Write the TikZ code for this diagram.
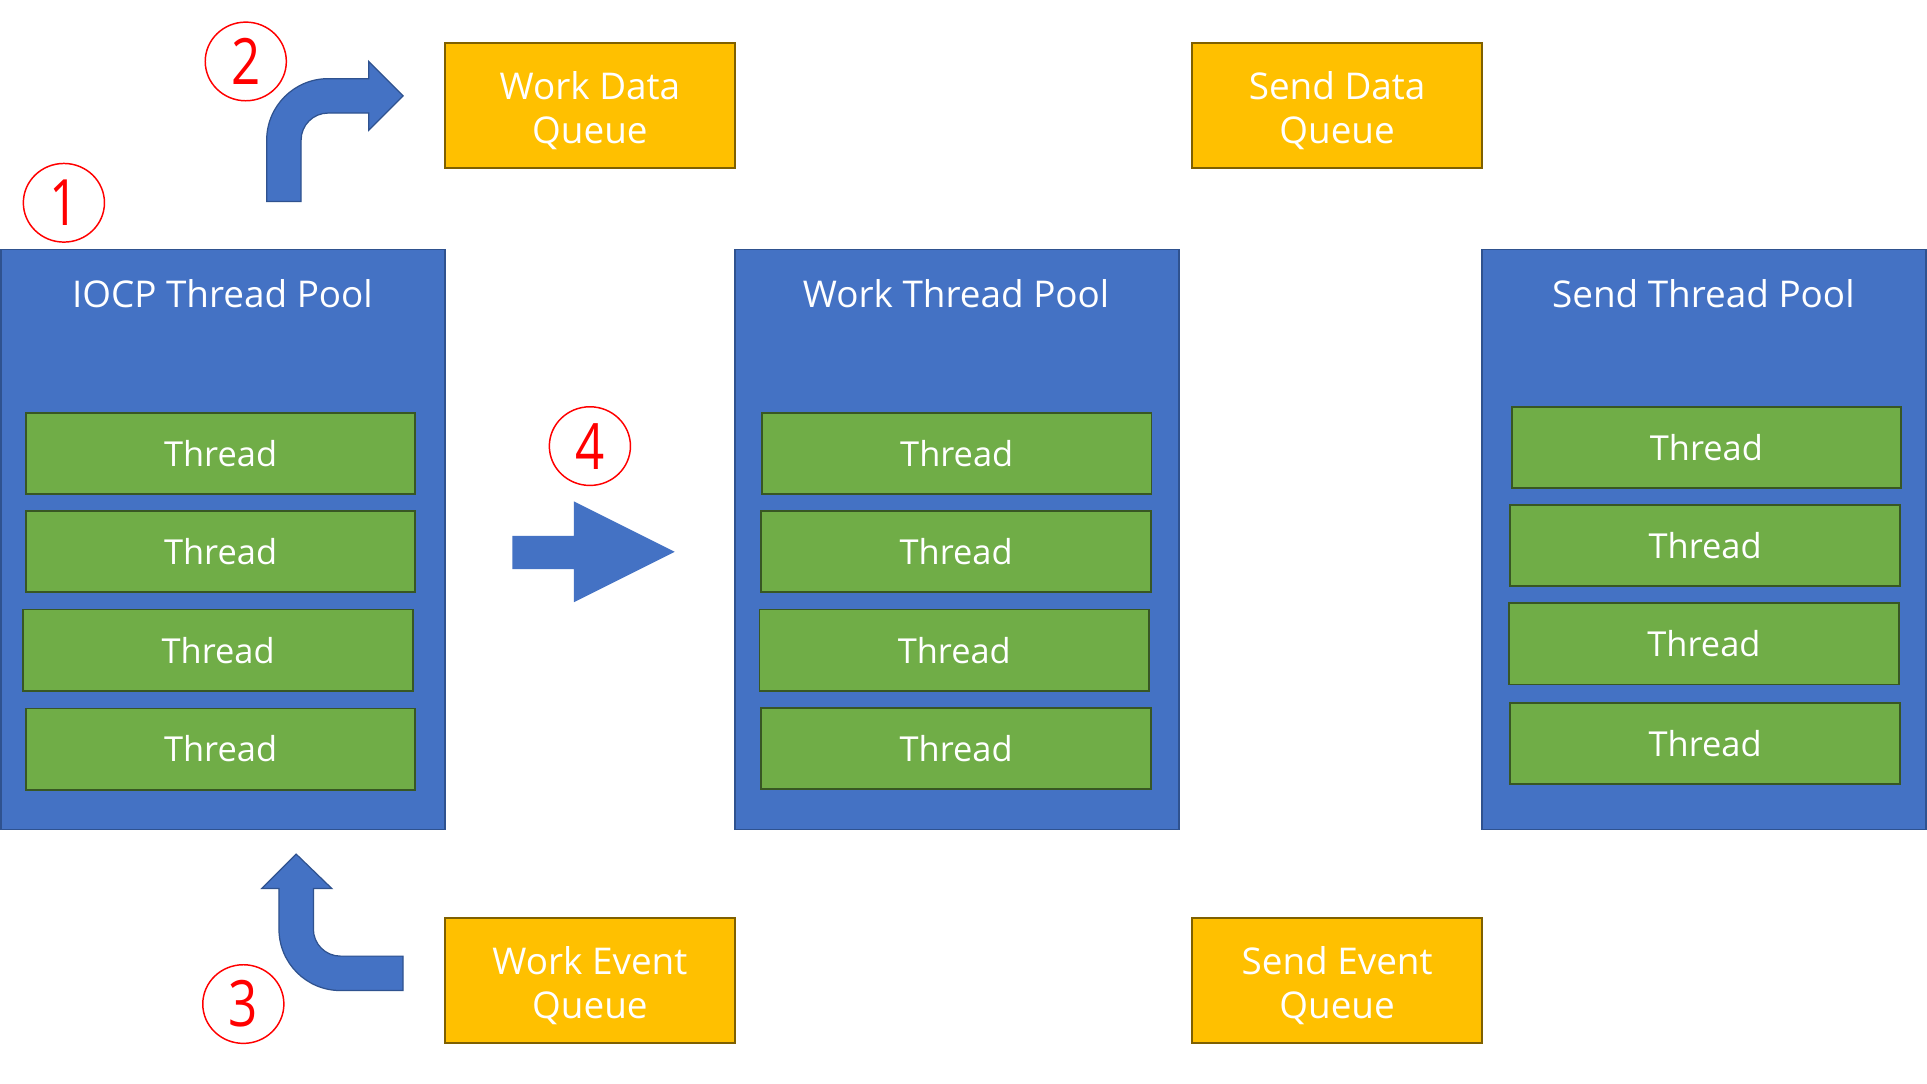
\documentclass[tikz,border=0pt]{standalone}
\usepackage{fontspec}
\setmainfont{Open Sans}
\usetikzlibrary{shapes.geometric}

\definecolor{poolblue}{HTML}{4472C4}
\definecolor{poolline}{HTML}{2F528F}
\definecolor{threadgreen}{HTML}{70AD47}
\definecolor{threadline}{HTML}{385723}
\definecolor{queuegold}{HTML}{FFC000}
\definecolor{queueline}{HTML}{7F6000}
\definecolor{markred}{HTML}{FF0000}

\tikzset{
  pool/.style={draw=poolline, fill=poolblue, line width=1.5pt,
    minimum width=361pt, minimum height=472pt, inner sep=0pt},
  pooltitle/.style={text=white, inner sep=0pt, font=\fontsize{30}{36}\selectfont},
  thread/.style={draw=threadline, fill=threadgreen, line width=1.5pt,
    minimum width=317pt, minimum height=66pt, inner sep=0pt,
    text=white, font=\fontsize{28}{34}\selectfont},
  queue/.style={draw=queueline, fill=queuegold, line width=1.5pt,
    minimum width=236pt, minimum height=102pt, inner sep=0pt,
    text=white, font=\fontsize{30}{36}\selectfont},
  queuetext/.style={text=white, inner sep=0pt, align=center,
    font=\fontsize{30}{36}\selectfont},
  numring/.style={draw=markred, line width=1.2pt, ellipse,
    minimum width=66pt, minimum height=64pt, inner sep=0pt,
    text=markred, font=\fontsize{52}{52}\selectfont},
  bentarrow/.style={draw=poolline, fill=poolblue, line width=1pt, line join=miter},
  flatarrow/.style={fill=poolblue},
}

\newcommand{\ringdigit}[1]{\scalebox{0.8}[1]{#1}}

\begin{document}
\begin{tikzpicture}[x=1pt,y=-1pt]
  \useasboundingbox[fill=white] (0,0) rectangle (1568,882);

  % thread pools
  \node[pool] (iocp) at (181.5,439) {};
  \node[pool] (work) at (778.5,439) {};
  \node[pool] (send) at (1386.5,439) {};

  \node[pooltitle] (iocpT) at (181,239) {IOCP Thread Pool};
  \node[pooltitle] (workT) at (778,239) {Work Thread Pool};
  \node[pooltitle] (sendT) at (1386,239) {Send Thread Pool};

  % IOCP threads
  \node[thread] (i1) at (179.5,369)   {Thread};
  \node[thread] (i2) at (179.5,449)   {Thread};
  \node[thread] (i3) at (177.5,529)   {Thread};
  \node[thread] (i4) at (179.5,609.5) {Thread};

  % work threads
  \node[thread] (w1) at (778.5,369) {Thread};
  \node[thread] (w2) at (778,449)   {Thread};
  \node[thread] (w3) at (776.5,529) {Thread};
  \node[thread] (w4) at (778,609)   {Thread};

  % send threads
  \node[thread] (s1) at (1388.5,364) {Thread};
  \node[thread] (s2) at (1387.5,444) {Thread};
  \node[thread] (s3) at (1386.5,524) {Thread};
  \node[thread] (s4) at (1387.5,605) {Thread};

  % queues
  \node[queue] (wdq) at (480,86)   {};
  \node[queue] (sdq) at (1088,86)  {};
  \node[queue] (weq) at (480,798)  {};
  \node[queue] (seq) at (1088,798) {};
  \node[queuetext] at ([yshift=-4pt]wdq.center) {Work Data\\Queue};
  \node[queuetext] at ([yshift=-4pt]sdq.center) {Send Data\\Queue};
  \node[queuetext] at ([yshift=-4pt]weq.center) {Work Event\\Queue};
  \node[queuetext] at ([yshift=-4pt]seq.center) {Send Event\\Queue};

  % step markers
  \node[numring] (n1) at (52,165)  {\ringdigit{1}};
  \node[numring] (n2) at (200,50)  {\ringdigit{2}};
  \node[numring] (n3) at (198,817) {\ringdigit{3}};
  \node[numring] (n4) at (480,363) {\ringdigit{4}};

  % bent arrow: up, then right towards the work data queue
  \draw[bentarrow] (217,164) -- (217,114)
    arc[start angle=180, end angle=90, radius=50pt]
    -- (300,64) -- (300,50) -- (328,78) -- (300,106) -- (300,92) -- (267,92)
    arc[start angle=90, end angle=180, radius=22pt]
    -- (245,164) -- cycle;

  % bent arrow: left from the work event queue, then up into the IOCP pool
  \draw[bentarrow] (328,778) -- (277,778)
    arc[start angle=270, end angle=180, radius=22pt]
    -- (255,723) -- (270,723) -- (241,695) -- (213,723) -- (227,723) -- (227,756)
    arc[start angle=180, end angle=270, radius=50pt]
    -- (328,806) -- cycle;

  % straight arrow between IOCP and work pools
  \fill[flatarrow] (417,436) -- (467,436) -- (467,408) -- (549,449)
    -- (467,490) -- (467,463) -- (417,463) -- cycle;
\end{tikzpicture}
\end{document}
